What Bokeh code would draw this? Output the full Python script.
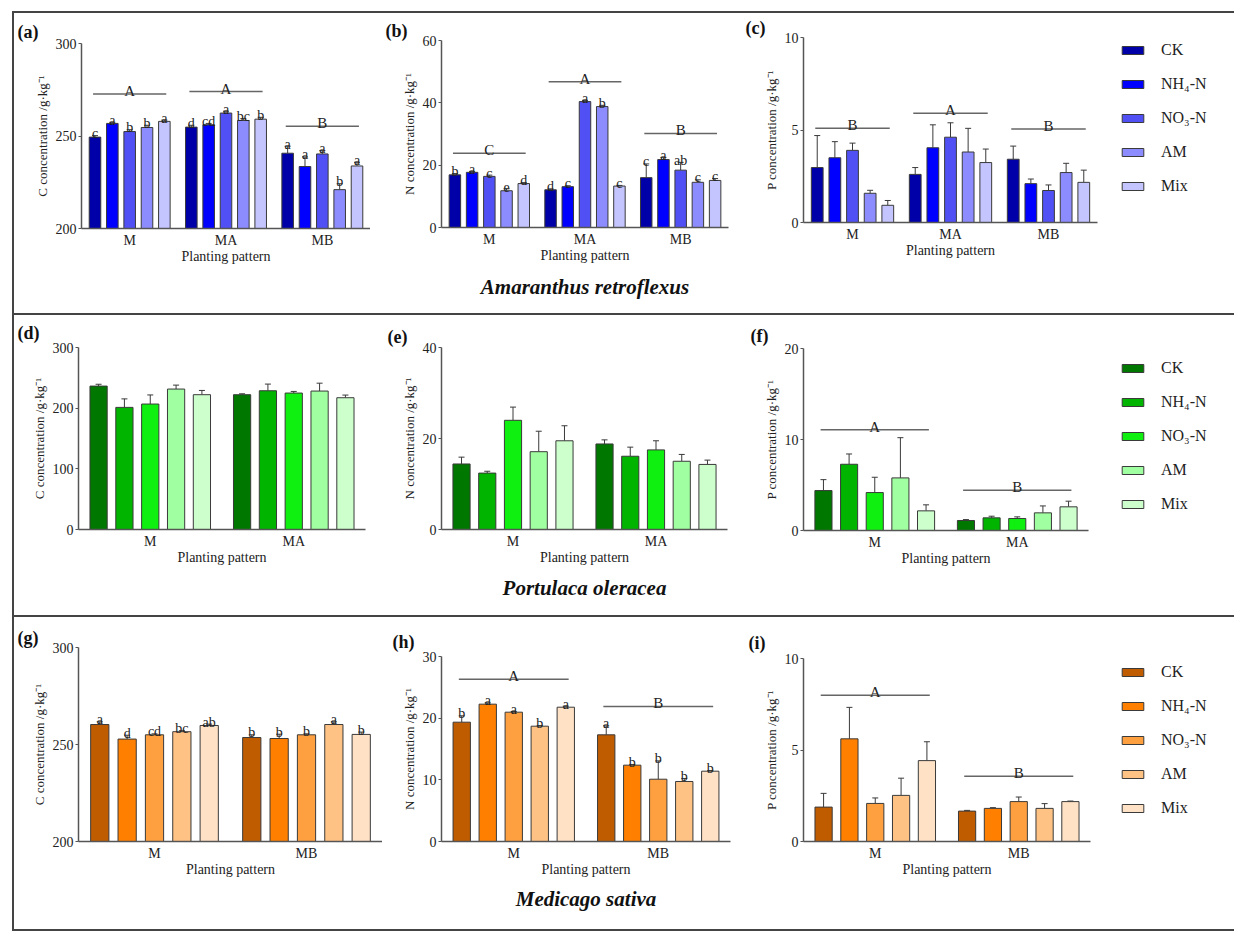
from bokeh.plotting import figure
from bokeh.models import (ColumnDataSource, FactorRange, Range1d, FixedTicker,
                          Legend, LegendItem, Title, Spacer)
from bokeh.layouts import row, column
from bokeh.transform import dodge
from bokeh.core.properties import value
from bokeh.embed import file_html
from bokeh.resources import INLINE

SERIF = "Liberation Serif"
INK = "#222222"
AXIS = "#555555"
EDGE = "#3a3a3a"

treatments = ["CK", "NH\u2084-N", "NO\u2083-N", "AM", "Mix"]
blues = ["#0000A8", "#0000FF", "#5050F5", "#8C8CFF", "#C4C4FF"]
greens = ["#007800", "#00B400", "#10F010", "#A0FFA0", "#CCFFCC"]
oranges = ["#C05C00", "#FF7F00", "#FFA040", "#FFC285", "#FFE2C6"]

# ---------- Amaranthus retroflexus ----------
groups_a = ["M", "MA", "MB"]
a_mean = [249.4, 256.8, 252.4, 254.6, 257.9,
          254.8, 256.1, 262.4, 258.4, 259.1,
          240.7, 233.5, 240.3, 221.0, 233.8]
a_err = [0.8, 0.6, 1.0, 1.2, 0.7,
         1.0, 0.7, 1.0, 1.0, 1.0,
         3.8, 5.2, 1.8, 3.2, 2.0]
a_letters = ["c", "a", "b", "b", "a", "d", "cd", "a", "bc", "b", "a", "a", "a", "b", "a"]
a_grp = ["A", "A", "B"]
a_grp_y = [272.7, 274.0, 255.3]

b_mean = [16.9, 17.7, 16.4, 11.8, 14.1,
          12.1, 13.1, 40.4, 38.8, 13.3,
          16.0, 21.8, 18.4, 14.5, 15.1]
b_err = [0.4, 0.3, 0.4, 0.6, 0.3,
         0.3, 0.3, 0.4, 0.4, 0.2,
         4.4, 0.7, 2.5, 0.8, 0.6]
b_letters = ["b", "a", "c", "e", "d", "d", "c", "a", "b", "c", "c", "a", "ab", "c", "c"]
b_grp = ["C", "A", "B"]
b_grp_y = [23.8, 46.8, 30.2]

c_mean = [2.97, 3.50, 3.90, 1.58, 0.93,
          2.60, 4.04, 4.61, 3.81, 3.24,
          3.42, 2.10, 1.73, 2.70, 2.17]
c_err = [1.73, 0.87, 0.39, 0.16, 0.26,
         0.37, 1.24, 0.78, 1.28, 0.73,
         0.71, 0.25, 0.30, 0.50, 0.66]
c_grp = ["B", "A", "B"]
c_grp_y = [5.1, 5.9, 5.05]

# ---------- Portulaca oleracea ----------
groups_d = ["M", "MA"]
d_mean = [236.4, 201.3, 206.8, 231.5, 222.2,
          222.2, 228.7, 224.9, 228.2, 217.2]
d_err = [3.0, 14.0, 15.0, 6.5, 7.0,
         1.5, 11.0, 2.7, 13.0, 4.4]

e_mean = [14.4, 12.4, 24.0, 17.1, 19.5,
          18.8, 16.1, 17.5, 15.0, 14.3]
e_err = [1.5, 0.4, 2.9, 4.5, 3.3,
         0.9, 2.0, 2.0, 1.5, 0.95]

f_mean = [4.39, 7.28, 4.17, 5.78, 2.16,
          1.10, 1.39, 1.32, 1.94, 2.60]
f_err = [1.20, 1.13, 1.68, 4.42, 0.66,
         0.10, 0.18, 0.18, 0.76, 0.62]
f_grp = ["A", "B"]
f_grp_y = [11.08, 4.42]

# ---------- Medicago sativa ----------
groups_g = ["M", "MB"]
g_mean = [260.3, 252.8, 255.0, 256.6, 259.8,
          253.6, 253.1, 255.0, 260.3, 255.2]
g_err = [1.4, 2.0, 0.5, 0.5, 0.7,
         1.4, 2.2, 0.5, 1.4, 1.2]
g_letters = ["a", "d", "cd", "bc", "ab", "b", "b", "b", "a", "b"]

h_mean = [19.35, 22.27, 20.97, 18.70, 21.78,
          17.30, 12.38, 10.10, 9.73, 11.40]
h_err = [1.03, 0.22, 0.11, 0.10, 0.17,
         1.46, 0.11, 2.97, 0.49, 0.11]
h_letters = ["b", "a", "a", "b", "a", "a", "b", "b", "b", "b"]
h_grp = ["A", "B"]
h_grp_y = [26.3, 21.9]

i_mean = [1.88, 5.61, 2.08, 2.52, 4.42,
          1.66, 1.81, 2.18, 1.81, 2.18]
i_err = [0.75, 1.72, 0.30, 0.94, 1.03,
         0.04, 0.04, 0.25, 0.26, 0.03]
i_grp = ["A", "B"]
i_grp_y = [7.99, 3.56]

ticks_c200 = [200, 250, 300]
ticks_n60 = [0, 20, 40, 60]
ticks_p10 = [0, 5, 10]
ticks_c300 = [0, 100, 200, 300]
ticks_n40 = [0, 20, 40]
ticks_p20 = [0, 10, 20]
ticks_n30 = [0, 10, 20, 30]

C_LABEL = "C concentration /g\u00b7kg\u207b\u00b9"
N_LABEL = "N concentration /g\u00b7kg\u207b\u00b9"
P_LABEL = "P concentration /g\u00b7kg\u207b\u00b9"

OFFS = [-0.36, -0.18, 0.0, 0.18, 0.36]
BAR_W = 0.12


def make_panel(tag, groups, mean, err, letters, glet, gline, yr, yticks,
               ylabel, colors, spec, species=None, legend_at=None):
    fw, fh, mbl, mbr, mbt, mbb, tag_dx, tag_standoff = spec
    p = figure(x_range=FactorRange(factors=groups), y_range=Range1d(yr[0], yr[1]),
               width=mbl + fw + mbr, height=mbt + fh + mbb,
               frame_width=fw, frame_height=fh,
               min_border_left=mbl, min_border_right=mbr,
               min_border_top=mbt, min_border_bottom=mbb,
               output_backend="svg", toolbar_location=None, title=None,
               outline_line_color=None, background_fill_color="white",
               border_fill_color="white")
    p.xgrid.visible = False
    p.ygrid.visible = False
    n = len(groups)
    rends = []
    for j in range(5):
        idx = [g * 5 + j for g in range(n)]
        src = ColumnDataSource(dict(
            group=groups,
            top=[mean[k] for k in idx],
            up=[mean[k] + err[k] for k in idx],
            lab=[letters[k] for k in idx] if letters else [""] * n,
        ))
        xd = dodge("group", OFFS[j], range=p.x_range)
        p.segment(x0=xd, y0="top", x1=xd, y1="up", line_color=EDGE, line_width=1, source=src)
        p.scatter(x=xd, y="up", marker="dash", size=6, line_color=EDGE, line_width=1, source=src)
        r = p.vbar(x=xd, top="top", bottom=yr[0], width=BAR_W, fill_color=colors[j],
                   line_color=EDGE, line_width=1, source=src)
        rends.append(r)
        if letters:
            p.text(x=xd, y="up", text="lab", text_align="center", text_baseline="alphabetic",
                   y_offset=-2, text_font=value(SERIF), text_font_size="14px",
                   text_color=INK, source=src)
    if glet:
        gs = ColumnDataSource(dict(group=groups, y=gline, t=glet))
        p.segment(x0=dodge("group", -0.38, range=p.x_range), y0="y",
                  x1=dodge("group", 0.38, range=p.x_range), y1="y",
                  line_color="#666666", line_width=1.5, source=gs)
        p.text(x="group", y="y", text="t", text_align="center", text_baseline="alphabetic",
               y_offset=-3, text_font=value(SERIF), text_font_size="15px",
               text_color=INK, source=gs)

    # x axis
    xa = p.xaxis[0]
    xa.axis_line_color = AXIS
    xa.axis_line_width = 1.5
    xa.major_tick_line_color = None
    xa.minor_tick_line_color = None
    xa.major_tick_out = 0
    xa.major_tick_in = 0
    xa.major_label_text_font = SERIF
    xa.major_label_text_font_size = "14px"
    xa.major_label_text_color = INK
    xa.major_label_standoff = 4
    xa.axis_label = "Planting pattern"
    xa.axis_label_text_font = SERIF
    xa.axis_label_text_font_size = "14px"
    xa.axis_label_text_font_style = "normal"
    xa.axis_label_text_color = INK
    xa.axis_label_standoff = -2

    # y axis
    ya = p.yaxis[0]
    ya.ticker = FixedTicker(ticks=yticks)
    ya.axis_line_color = AXIS
    ya.axis_line_width = 1.5
    ya.major_tick_line_color = AXIS
    ya.major_tick_out = 3
    ya.major_tick_in = 0
    ya.minor_tick_line_color = None
    ya.major_label_text_font = SERIF
    ya.major_label_text_font_size = "14px"
    ya.major_label_text_color = INK
    ya.major_label_standoff = 2
    ya.axis_label = ylabel
    ya.axis_label_text_font = SERIF
    ya.axis_label_text_font_size = "13px"
    ya.axis_label_text_font_style = "normal"
    ya.axis_label_text_color = INK
    ya.axis_label_standoff = 3

    # panel tag, left of the y axis top
    p.add_layout(Title(text=tag, align="left", offset=tag_dx, standoff=max(tag_standoff, 0),
                       text_font=SERIF, text_font_size="18px", text_font_style="bold",
                       text_color="#111111"), "above")

    if species:
        name, gap = species
        p.add_layout(Title(text=name, align="center", text_font=SERIF,
                           text_font_size="21px", text_font_style="bold italic",
                           text_color="#111111", standoff=gap), "below")

    if legend_at:
        items = [LegendItem(label=t, renderers=[r]) for t, r in zip(treatments, rends)]
        lg = Legend(items=items, location=legend_at, orientation="vertical",
                    glyph_width=27, glyph_height=10, label_standoff=15, spacing=16,
                    padding=3, margin=0, border_line_color=None, background_fill_alpha=0,
                    label_text_font=SERIF, label_text_font_size="16px",
                    label_text_color=INK)
        p.add_layout(lg, "right")
    return p


# spec: frame_w, frame_h, min_left, min_right, min_top, min_bottom, tag_dx, tag_standoff
pa = make_panel("(a)", groups_a, a_mean, a_err, a_letters, a_grp, a_grp_y,
                (200, 300), ticks_c200, C_LABEL, blues, (289, 185, 67, 0, 30, 85, -64, 3))
pb = make_panel("(b)", groups_a, b_mean, b_err, b_letters, b_grp, b_grp_y,
                (0, 60), ticks_n60, N_LABEL, blues, (287, 187, 71, 7, 27, 86, -56, 0),
                species=("Amaranthus retroflexus", 14))
pc = make_panel("(c)", groups_a, c_mean, c_err, None, c_grp, c_grp_y,
                (0, 10), ticks_p10, P_LABEL, blues, (294, 185, 68, 123, 24, 91, -58, 0),
                legend_at=(22, 27))

pd = make_panel("(d)", groups_d, d_mean, d_err, None, None, None,
                (0, 300), ticks_c300, C_LABEL, greens, (287, 182, 64, 5, 31, 86, -61, 10))
pe = make_panel("(e)", groups_d, e_mean, e_err, None, None, None,
                (0, 40), ticks_n40, N_LABEL, greens, (286, 182, 71, 8, 32, 85, -54, 2),
                species=("Portulaca oleracea", 12))
pf = make_panel("(f)", groups_d, f_mean, f_err, None, f_grp, f_grp_y,
                (0, 20), ticks_p20, P_LABEL, greens, (285, 182, 68, 132, 33, 84, -53, 5),
                legend_at=(31, 17))

pg = make_panel("(g)", groups_g, g_mean, g_err, g_letters, None, None,
                (200, 300), ticks_c200, C_LABEL, oranges, (304, 194, 64, 0, 30, 88, -61, 0))
ph = make_panel("(h)", groups_g, h_mean, h_err, h_letters, h_grp, h_grp_y,
                (0, 30), ticks_n30, N_LABEL, oranges, (289, 185, 59, 5, 39, 88, -49, 9),
                species=("Medicago sativa", 10))
pi = make_panel("(i)", groups_g, i_mean, i_err, None, i_grp, i_grp_y,
                (0, 10), ticks_p10, P_LABEL, oranges, (287, 183, 68, 130, 41, 88, -55, 11),
                legend_at=(29, 24))

box = "2px solid #444444"
r1 = row(column(pa), column(pb), column(pc), styles={"border": box})
r2 = row(column(pd), column(pe), column(pf),
         styles={"border-left": box, "border-right": box, "border-bottom": box})
r3 = row(column(pg), column(ph), column(pi),
         styles={"border-left": box, "border-right": box, "border-bottom": box})
page = column(Spacer(height=11), row(Spacer(width=12), column(r1, r2, r3)))

open("out.html", "w").write(file_html(page, INLINE))
